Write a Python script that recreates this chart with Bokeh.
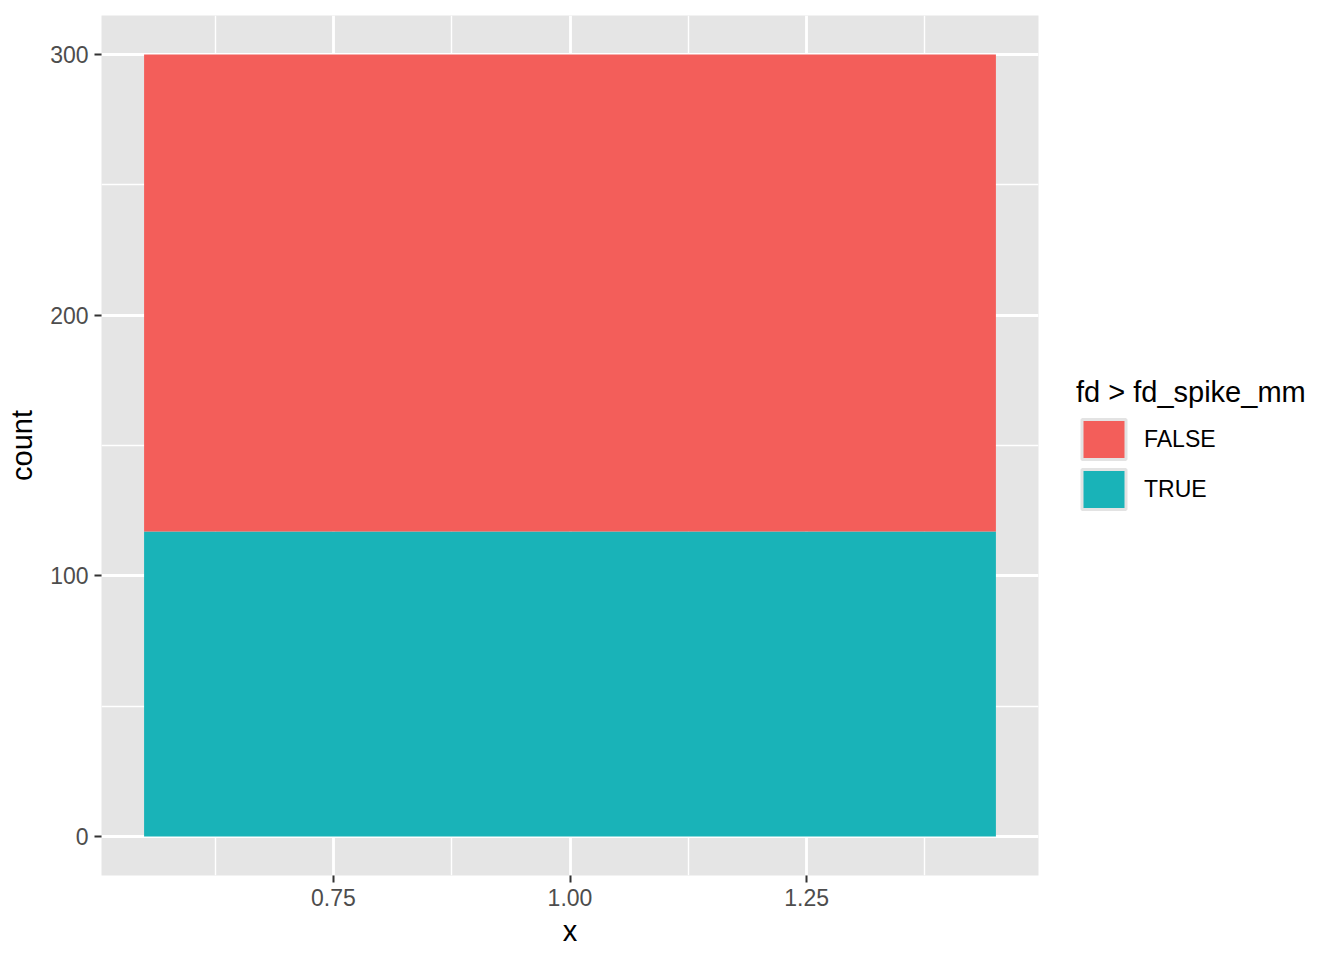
from bokeh.plotting import figure
from bokeh.models import ColumnDataSource, FixedTicker, Legend, LegendItem, Range1d
from bokeh.embed import file_html
from bokeh.resources import INLINE

# ---- data ----
groups = ["FALSE", "TRUE"]          # legend order
stack_order = ["TRUE", "FALSE"]     # bottom to top
counts = {"FALSE": 183, "TRUE": 117}
colors = {"FALSE": "#F35E5A", "TRUE": "#19B3B8"}
x_pos = [1.0]
bar_width = 0.9
y_ticks = [0, 100, 200, 300]
y_minor = [50, 150, 250]
x_ticks = [0.75, 1.00, 1.25]
x_minor = [0.625, 0.875, 1.125, 1.375]
x_tick_labels = {0.75: "0.75", 1.0: "1.00", 1.25: "1.25"}
legend_title = "fd > fd_spike_mm"

FONT = "Liberation Sans"
PANEL = "#E5E5E5"

src = ColumnDataSource(dict(x=x_pos, **{g: [counts[g]] for g in groups}))

p = figure(frame_width=937, frame_height=860, output_backend="svg", toolbar_location=None,
           x_range=Range1d(0.505, 1.495), y_range=Range1d(-15, 315),
           min_border_left=101, min_border_top=15, min_border_right=0,
           min_border_bottom=77,
           background_fill_color=PANEL, border_fill_color="white", outline_line_color=None)

rs = p.vbar_stack(stack_order, x="x", width=bar_width, source=src,
                  color=[colors[g] for g in stack_order], line_width=0)

# invisible copies of the stack used only as legend keys (grey key border)
keys = p.vbar_stack(stack_order, x="x", width=bar_width, source=src,
                    fill_color=[colors[g] for g in stack_order],
                    line_color="#E3E3E3", line_width=3, visible=False)
key_of = dict(zip(stack_order, keys))
items = [LegendItem(label=g, renderers=[key_of[g]]) for g in groups]

legend = Legend(items=items, location="left", title=legend_title,
                title_text_font=FONT, title_text_font_size="29px", title_text_color="black",
                title_text_font_style="normal", title_standoff=5,
                label_text_font=FONT, label_text_font_size="23px", label_text_color="black",
                label_standoff=13, glyph_width=55, glyph_height=50, spacing=0,
                label_height=50, padding=0, margin=38, border_line_color=None,
                background_fill_alpha=0)
p.add_layout(legend, "right")

# axes
p.yaxis.ticker = FixedTicker(ticks=y_ticks, minor_ticks=y_minor)
p.xaxis.ticker = FixedTicker(ticks=x_ticks, minor_ticks=x_minor)
p.xaxis.major_label_overrides = x_tick_labels
for ax in (p.xaxis, p.yaxis):
    ax.axis_line_color = None
    ax.major_tick_line_color = "#333333"
    ax.major_tick_line_width = 2
    ax.major_tick_out = 7
    ax.major_tick_in = 0
    ax.minor_tick_line_color = None
    ax.major_label_text_font = FONT
    ax.major_label_text_font_size = "23px"
    ax.major_label_text_color = "#4D4D4D"
    ax.major_label_standoff = 6
    ax.axis_label_text_font = FONT
    ax.axis_label_text_font_size = "29px"
    ax.axis_label_text_font_style = "normal"
    ax.axis_label_text_color = "black"
    ax.axis_label_standoff = 6
p.yaxis.axis_label_standoff = 9
p.xaxis.axis_label = "x"
p.yaxis.axis_label = "count"

for g in (p.xgrid, p.ygrid):
    g.grid_line_color = "white"
    g.grid_line_width = 2.8
    g.minor_grid_line_color = "white"
    g.minor_grid_line_width = 1.4

open("out.html", "w").write(file_html(p, INLINE))
